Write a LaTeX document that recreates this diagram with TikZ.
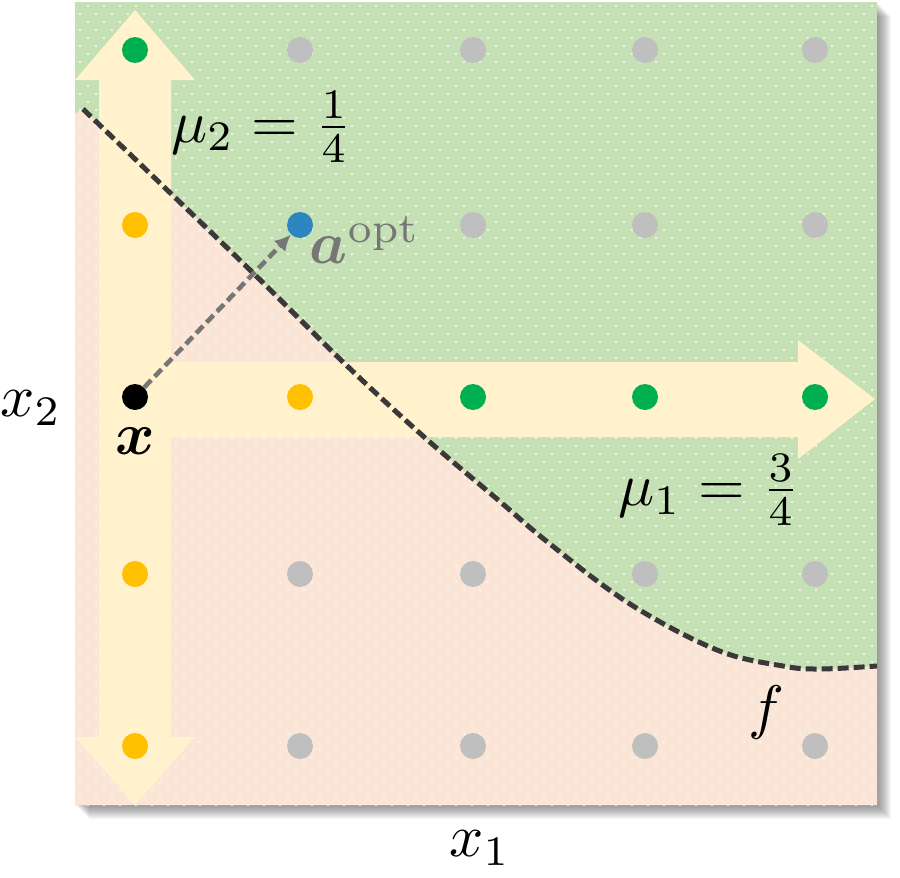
\documentclass[tikz,border=0pt]{standalone}
\usepackage{amsmath,amssymb}
\usetikzlibrary{arrows.meta,patterns.meta}
\definecolor{panelgreen}{RGB}{197,224,180}
\definecolor{panelpink}{RGB}{251,229,214}
\definecolor{arrowyellow}{RGB}{255,242,204}
\definecolor{dotgreen}{RGB}{0,176,80}
\definecolor{dotorange}{RGB}{255,192,0}
\definecolor{dotgray}{RGB}{191,191,191}
\definecolor{dotblue}{RGB}{46,134,193}
\definecolor{curvegray}{RGB}{58,56,56}
\definecolor{arrowgray}{RGB}{118,118,118}
\pgfdeclarepattern{
  name=staggerdots,
  type=uncolored,
  bottom left={\pgfpoint{-1pt}{-1pt}},
  top right={\pgfpoint{7pt}{7pt}},
  tile size={\pgfpoint{8pt}{8pt}},
  code={
    \pgfpathcircle{\pgfpoint{0pt}{0pt}}{0.55pt}
    \pgfpathcircle{\pgfpoint{4pt}{4pt}}{0.55pt}
    \pgfusepath{fill}
  }
}
\tikzset{
  spot/.style={circle,inner sep=0pt,minimum size=13pt},
  lbl/.style={scale=3,inner sep=0pt},
  bigarrow/.style={fill=arrowyellow},
  boundary/.style={curvegray,line width=2.5pt,dash pattern=on 5.5pt off 2.5pt},
}

\begin{document}
\begin{tikzpicture}[x=0.5pt,y=-0.5pt,>={Latex[length=8pt,width=8pt]}]
\useasboundingbox (0,0) rectangle (900,878);
% soft shadow
\foreach \d in {1,2,...,14}
  \fill[black,opacity=0.035] (75+\d,2+\d) rectangle (877+\d,805+\d);
% panel with the two regions
\fill[panelgreen] (75,2) rectangle (877,805);
\fill[panelpink] (75,114) -- plot[smooth,tension=0.6] coordinates {(83,109) (250,270) (343,362) (423,436) (497,499) (550,544) (630,604) (717,650) (783,666) (820,669) (877,666)} -- (877,805) -- (75,805) -- cycle;
\fill[pattern=staggerdots,pattern color=white,fill opacity=0.9] (75,2) rectangle (877,805);
% directions
\fill[bigarrow] (135,10) -- (195,80) -- (171,80) -- (171,737) -- (195,737) -- (135,805) -- (75,737) -- (99,737) -- (99,80) -- (75,80) -- cycle;
\fill[bigarrow] (135,362) -- (798,362) -- (798,340) -- (875,399) -- (798,459) -- (798,437) -- (135,437) -- cycle;
% decision boundary
\draw[boundary] plot[smooth,tension=0.6] coordinates {(83,109) (250,270) (343,362) (423,436) (497,499) (550,544) (630,604) (717,650) (783,666) (820,669) (877,666)};
% grid of points
\node[spot,fill=dotgreen] (p11) at (135,50) {};
\node[spot,fill=dotgray] (p12) at (300,50) {};
\node[spot,fill=dotgray] (p13) at (473,50) {};
\node[spot,fill=dotgray] (p14) at (645,50) {};
\node[spot,fill=dotgray] (p15) at (815,50) {};
\node[spot,fill=dotorange] (p21) at (135,225) {};
\node[spot,fill=dotblue] (p22) at (300,225) {};
\node[spot,fill=dotgray] (p23) at (473,225) {};
\node[spot,fill=dotgray] (p24) at (645,225) {};
\node[spot,fill=dotgray] (p25) at (815,225) {};
\node[spot,fill=black] (p31) at (135,397) {};
\node[spot,fill=dotorange] (p32) at (300,397) {};
\node[spot,fill=dotgreen] (p33) at (473,397) {};
\node[spot,fill=dotgreen] (p34) at (645,397) {};
\node[spot,fill=dotgreen] (p35) at (815,397) {};
\node[spot,fill=dotorange] (p41) at (135,574) {};
\node[spot,fill=dotgray] (p42) at (300,574) {};
\node[spot,fill=dotgray] (p43) at (473,574) {};
\node[spot,fill=dotgray] (p44) at (645,574) {};
\node[spot,fill=dotgray] (p45) at (815,574) {};
\node[spot,fill=dotorange] (p51) at (135,746) {};
\node[spot,fill=dotgray] (p52) at (300,746) {};
\node[spot,fill=dotgray] (p53) at (473,746) {};
\node[spot,fill=dotgray] (p54) at (645,746) {};
\node[spot,fill=dotgray] (p55) at (815,746) {};
\draw[->,arrowgray,line width=2.3pt,dash pattern=on 5pt off 2.5pt] (p31) -- (p22);
% labels
\node[lbl] (x2lbl) at (31,408) {$x_2$};
\node[lbl] (xlbl) at (135,441) {$\boldsymbol{x}$};
\node[lbl] (mu2lbl) at (262,127) {$\mu_2 = \frac{1}{4}$};
\node[lbl] (mu1lbl) at (709,490) {$\mu_1 = \frac{3}{4}$};
\node[lbl,text=arrowgray] (aoptlbl) at (365,240) {$\boldsymbol{a}^{\mathrm{opt}}$};
\node[lbl] (flbl) at (766,712) {$f$};
\node[lbl] (x1lbl) at (480,848) {$x_1$};
\end{tikzpicture}
\end{document}
